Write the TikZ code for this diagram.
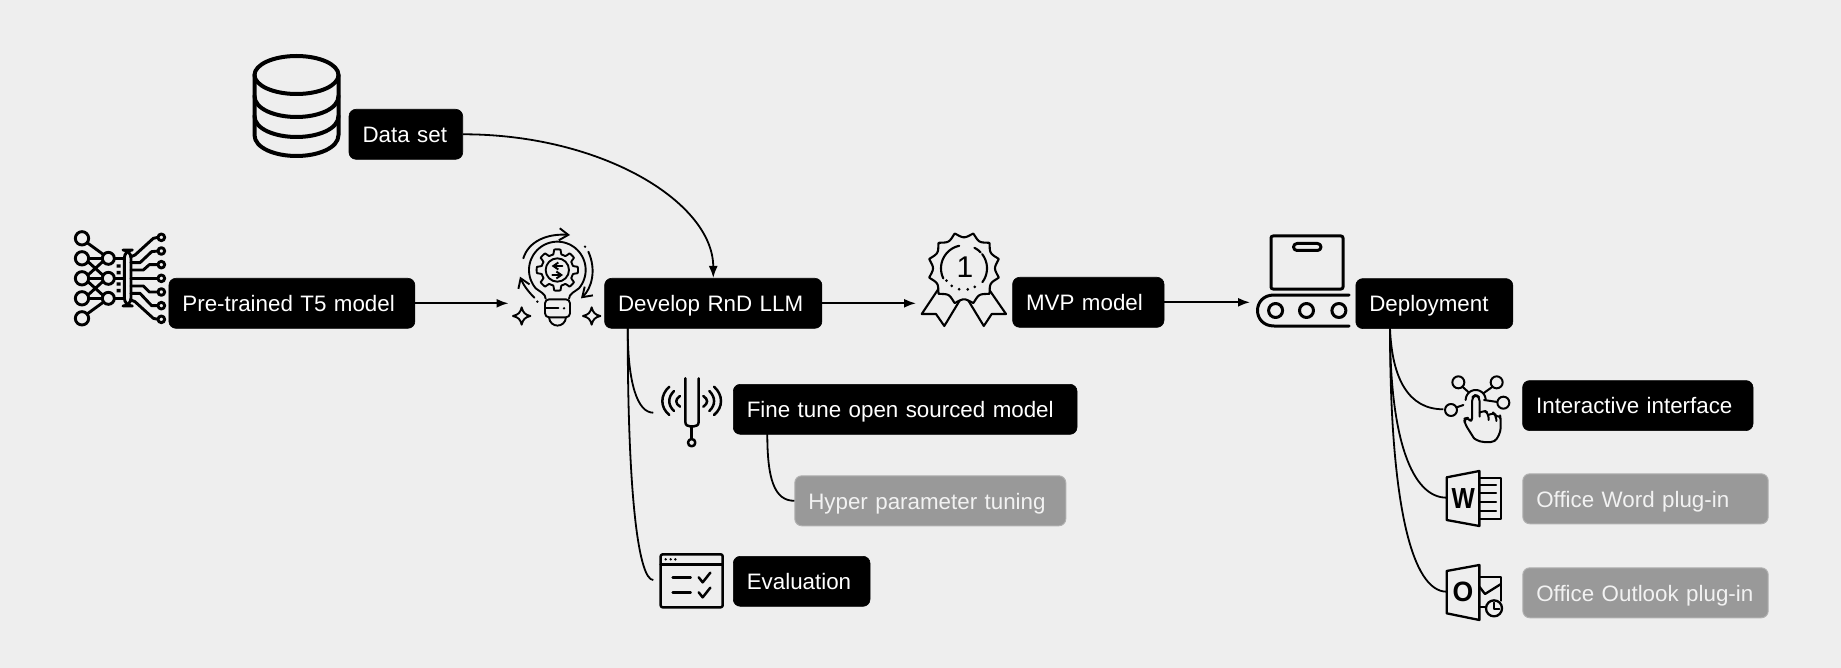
\documentclass[tikz,border=0pt]{standalone}
\usepackage{fontspec}
\setmainfont{Liberation Sans}
\usetikzlibrary{arrows.meta}
\definecolor{bgc}{HTML}{EEEEEE}
\definecolor{greyb}{HTML}{999999}
\definecolor{greyl}{HTML}{B0B0B0}
\tikzset{
  lbl/.style n args={2}{rounded corners=7pt,anchor=north west,inner xsep=13.5pt,inner ysep=0pt,
     font=\fontsize{22.35pt}{26pt}\selectfont,align=left,text height=19.3pt,text depth=2.7pt,
     minimum height=#2,text width=#1-27pt,minimum width=#1},
  blk/.style={lbl={#1}{50pt},fill=black,draw=black,line width=.6pt,text=white},
  gry/.style={lbl={#1}{50pt},fill=greyb,draw=greyl,line width=1pt,text=white!95!black},
  flow/.style={draw=black,line width=1.8pt,-{Latex[length=12pt,width=9pt]}},
  bow/.style={draw=black,line width=1.8pt},
  ico/.style={draw=black,line width=2pt,line cap=round,line join=round},
  z3/.style={x=.33333pt,y=-.33333pt},
}
\begin{document}
\begin{tikzpicture}[x=1pt,y=-1pt]
\useasboundingbox (0,0) rectangle (1841,668);
\fill[bgc] (0,0) rectangle (1841,668);

% ---------- database icon
\begin{scope}[ico,line width=4pt]
\draw (296.5,75) ellipse[x radius=42,y radius=19];
\draw (254.5,75) -- (254.5,135) .. controls (254.5,148) and (275,156) .. (296.5,156) .. controls (318,156) and (338.5,148) .. (338.5,135) -- (338.5,75);
\draw (254.5,96) .. controls (254.5,109) and (275,117) .. (296.5,117) .. controls (318,117) and (338.5,109) .. (338.5,96);
\draw (254.5,116) .. controls (254.5,129) and (275,137) .. (296.5,137) .. controls (318,137) and (338.5,129) .. (338.5,116);
\end{scope}

% ---------- neural net icon
\begin{scope}[shift={(60,220)},z3,ico,line width=2.9pt]
\draw (84,70)--(128,102) (84,280)--(128,248);
\draw (86,115)--(125,115) (86,175)--(125,175) (86,235)--(125,235);
\draw (84,125)--(128,165) (84,165)--(128,125) (84,185)--(128,225) (84,225)--(128,185);
\draw (163,115)--(193,115) (163,175)--(193,175) (163,235)--(193,235);
\foreach \yy in {55,115,175,235,295} \draw[fill=bgc] (66,\yy) circle[radius=20];
\foreach \yy in {115,175,235} \draw[fill=bgc] (145,\yy) circle[radius=18];
\draw[fill=bgc,rounded corners=8pt] (193,90) rectangle (213,258);
\draw (213,110)--(225,105)--(280,55)--(294,52);
\draw (213,128)--(240,128)--(275,95)--(294,93);
\draw (213,150)--(250,150)--(268,134)--(294,134);
\draw (213,175)--(294,175);
\draw (213,198)--(250,198)--(268,216)--(294,216);
\draw (213,220)--(240,220)--(275,257)--(294,257);
\draw (213,240)--(225,245)--(280,295)--(294,298);
\foreach \yy in {52,93,134,175,216,257,298} \draw[fill=bgc] (304,\yy) circle[radius=10];
\fill (170,133) rectangle (182,143) (170,153) rectangle (182,163) (170,187) rectangle (182,197) (170,207) rectangle (182,217);
\end{scope}

% ---------- bulb icon
\begin{scope}[shift={(505,220)},z3,ico,line width=1.9pt]
\draw plot[domain=140:400,samples=50] ({157+85*cos(\x)},{150+85*sin(\x)});
\draw (122,236) .. controls (122,222) and (105,215) .. (92,205);
\draw (192,236) .. controls (192,222) and (209,215) .. (222,205);
\draw[rounded corners=4pt] (120,238) rectangle (195,292);
\draw (120,265) -- (160,265);
\fill (177,265) circle[radius=4];
\draw (132,292) .. controls (135,325) and (180,325) .. (183,292);
\draw plot[samples=121,domain=0:360] ({157+(55+7*max(min(3*cos(8*\x),1),-1))*cos(\x)},{150+(55+7*max(min(3*cos(8*\x),1),-1))*sin(\x)}) -- cycle;
\draw (157,150) circle[radius=35];
\draw[-{Straight Barb[length=5pt,width=7pt]}] (172,138)--(140,138);
\draw[-{Straight Barb[length=5pt,width=7pt]}] (142,165)--(174,165);
\draw[-{Straight Barb[length=9pt,width=12pt]}] (55,115) .. controls (70,65) and (125,40) .. (195,45);
\draw[-{Straight Barb[length=9pt,width=12pt]}] (250,95) .. controls (275,150) and (260,205) .. (228,235);
\draw[-{Straight Barb[length=9pt,width=12pt]}] (88,233) .. controls (70,215) and (55,195) .. (45,170);
\fill (240,80) circle[radius=4] (97,245) circle[radius=4];
\draw (50,262) .. controls (54,278) and (60,284) .. (76,288) .. controls (60,292) and (54,298) .. (50,314) .. controls (46,298) and (40,292) .. (24,288) .. controls (40,284) and (46,278) .. (50,262) -- cycle;
\draw (260,262) .. controls (264,278) and (270,284) .. (286,288) .. controls (270,292) and (264,298) .. (260,314) .. controls (256,298) and (250,292) .. (234,288) .. controls (250,284) and (256,278) .. (260,262) -- cycle;
\end{scope}

% ---------- medal icon
\begin{scope}[ico,line width=2.1pt]
\draw (939,288)--(921.7,314)--(936,314)--(944.3,326)--(960,300);
\draw (988,288)--(1006,314)--(991.7,314)--(983.8,326)--(968,300);
\draw[fill=bgc] plot[samples=145,domain=0:360] ({964+(31+5*(1-abs(sin(6*(\x+15)))))*cos(\x)},{268.3+(31+5*(1-abs(sin(6*(\x+15)))))*sin(\x)}) -- cycle;
\draw plot[domain=154:258,samples=24] ({964+23*cos(\x)},{268.3+23*sin(\x)});
\draw plot[domain=297:316,samples=6] ({964+23*cos(\x)},{268.3+23*sin(\x)});
\draw plot[domain=322:397,samples=18] ({964+23*cos(\x)},{268.3+23*sin(\x)});
\foreach \aa in {145,125,103,80,60}
  \fill ({964+21.5*cos(\aa)},{268.3+21.5*sin(\aa)}) circle[radius=1.5];
\node[inner sep=0pt,font=\fontsize{30pt}{30pt}\selectfont] (one) at (965,267) {1};
\end{scope}

% ---------- conveyor icon
\begin{scope}[ico,line width=3pt]
\draw[rounded corners=2pt] (1271,236) rectangle (1343,289);
\draw[rounded corners=3.5pt] (1293.5,243.5) rectangle (1321,250.5);
\draw (1349,295) -- (1274,295) .. controls (1252,295) and (1252,326) .. (1274,326) -- (1349,326);
\foreach \xx in {1275.6,1306.5,1338.9} \draw (\xx,310.5) circle[radius=7];
\end{scope}

% ---------- tuning fork icon
\begin{scope}[shift={(600,310)},z3,ico,line width=2.5pt]
\draw (256,205) -- (256,335) .. controls (256,345) and (262,349) .. (270,349) -- (282,349) .. controls (290,349) and (296,345) .. (296,335) -- (296,205);
\draw (275,349)--(275,385);
\draw (275,398) circle[radius=11];
\draw (240,258) .. controls (225,268) and (225,280) .. (240,290);
\draw (222,243) .. controls (203,262) and (203,285) .. (222,303);
\draw (208,230) .. controls (180,255) and (180,292) .. (208,315);
\draw (310,258) .. controls (325,268) and (325,280) .. (310,290);
\draw (328,243) .. controls (347,262) and (347,285) .. (328,303);
\draw (342,230) .. controls (370,255) and (370,292) .. (342,315);
\end{scope}

% ---------- evaluation icon
\begin{scope}[shift={(600,310)},z3,ico,line width=2.5pt]
\draw[rounded corners=2pt] (182,733) rectangle (368,892);
\draw (182,763)--(368,763);
\fill (197,748) circle[radius=4] (212,748) circle[radius=4] (226,748) circle[radius=4];
\draw (218,803)--(272,803) (218,848)--(272,848);
\draw (296,802)--(308,817)--(331,788) (296,847)--(308,862)--(331,833);
\end{scope}

% ---------- interactive icon
\begin{scope}[shift={(1370,320)},z3,ico,line width=2pt]
\draw (277,200)--(296,217) (368,200)--(340,220) (382,246)--(342,240) (260,262)--(280,255);
\foreach \cx/\cy in {265/187,380/187,400/248,243/270} \draw (\cx,\cy) circle[radius=18];
\draw plot[domain=180:360,samples=20] ({317+30*cos(\x)},{240+30*sin(\x)});
\draw[rounded corners=4pt] (312,355) -- (285,312) -- (282,296) -- (295,293) -- (306,308) -- (306,232) -- (317,224) -- (329,232) -- (329,290);
\draw[rounded corners=4pt] (329,278) -- (342,270) -- (355,280) -- (356,300);
\draw[rounded corners=4pt] (356,285) -- (368,277) -- (378,285) -- (379,303);
\draw[rounded corners=4pt] (379,288) -- (390,285) -- (392,298) -- (392,335) -- (375,366) -- (330,366) -- (312,355);
\end{scope}

% ---------- word icon
\begin{scope}[shift={(1370,320)},z3,ico,line width=2.3pt]
\draw (230,472)--(328,453)--(328,618)--(230,600)--cycle;
\draw (328,473)--(393,473)--(393,597)--(328,597);
\draw (328,495)--(378,495) (328,520)--(378,520) (328,547)--(378,547) (328,572)--(378,572);
\node[inner sep=0pt,xscale=.85,font=\fontsize{29pt}{29pt}\selectfont\bfseries] (wd) at (280,537) {W};
% outlook
\draw (230,753)--(328,735)--(328,900)--(230,880)--cycle;
\draw (328,770)--(393,770)--(393,842) (328,862)--(345,862) ;
\draw (328,800)--(345,822)--(393,792);
\draw[fill=bgc] (372,865) circle[radius=24];
\draw (372,848)--(372,868)--(388,868);
\node[inner sep=0pt,xscale=.95,font=\fontsize{28pt}{28pt}\selectfont\bfseries] (ol) at (279,815) {O};
\end{scope}

% ---------- labels
\node[blk=113.7pt] (ds) at (348.7,109) {Data set};
\node[blk=246pt] (t5) at (168.6,278) {Pre-trained T5 model};
\node[blk=217.3pt] (dev) at (604.3,278) {Develop RnD LLM};
\node[blk=343.7pt] (fine) at (733,384) {Fine tune open sourced model};
\node[gry=271pt] (hyp) at (794.3,475.3) {Hyper parameter tuning};
\node[blk=136.7pt] (eval) at (733,556) {Evaluation};
\node[blk=151.4pt] (mvp) at (1012.3,277) {MVP model};
\node[blk=157pt] (dep) at (1355.5,278.3) {Deployment};
\node[blk=230.4pt] (int) at (1522.3,380.3) {Interactive interface};
\node[gry=245.4pt] (wrd) at (1522.3,473.3) {Office Word plug-in};
\node[gry=245.4pt] (out) at (1522.3,567.3) {Office Outlook plug-in};

% ---------- free ends
\coordinate (bulbin) at (508.5,303.3);
\coordinate (medalin) at (916,303.3);
\coordinate (convin) at (1250,302.3);
\coordinate (devs) at (627.7,328);
\coordinate (fines) at (767.3,434);
\coordinate (deps) at (1390,328.5);
\coordinate (forkc) at (653.3,412.7);
\coordinate (evalc) at (653.3,580);
\coordinate (intc) at (1443.3,409.3);
\coordinate (wrdc) at (1446.7,497.7);
\coordinate (outc) at (1446.7,591.7);

% ---------- connectors
\draw[flow] (ds.east) .. controls +(140,0) and +(0,-75) .. (dev.north);
\draw[flow] (t5.east) -- (t5.east -| bulbin);
\draw[flow] (dev.east) -- (dev.east -| medalin);
\draw[flow] (mvp.east) -- (mvp.east -| convin);
\draw[bow] (devs) .. controls +(0,55) and +(-16,0) .. (forkc);
\draw[bow] (devs) .. controls +(0,175) and +(-14,0) .. (evalc);
\draw[bow] (fines) .. controls +(0,45) and +(-20,0) .. (hyp.west);
\draw[bow] (deps) .. controls +(2,50) and +(-35,0) .. (intc);
\draw[bow] (deps) .. controls +(0,110) and +(-35,0) .. (wrdc);
\draw[bow] (deps) .. controls +(0,175) and +(-35,0) .. (outc);
\end{tikzpicture}
\end{document}
